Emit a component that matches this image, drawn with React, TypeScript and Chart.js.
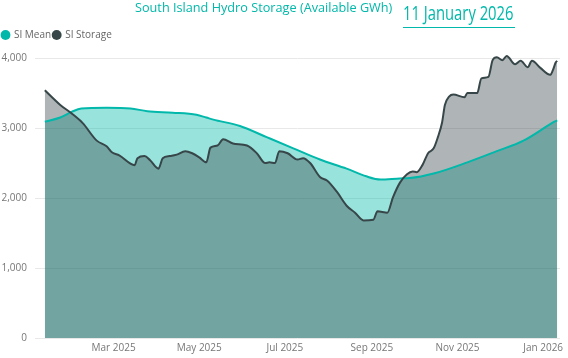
import React, { useEffect, useRef } from 'react';
import { Chart, registerables } from 'chart.js';

Chart.register(...registerables);

const START_DATE = '2025-01-11';

const storageDates = [
  '2025-01-11', '2025-01-22', '2025-01-30', '2025-02-07', '2025-02-17', '2025-02-24', '2025-02-28',
  '2025-03-05', '2025-03-16', '2025-03-18', '2025-03-23', '2025-03-27', '2025-04-02', '2025-04-05',
  '2025-04-10', '2025-04-15', '2025-04-21', '2025-04-26', '2025-05-01', '2025-05-06', '2025-05-09',
  '2025-05-14', '2025-05-18', '2025-05-25', '2025-06-04', '2025-06-11', '2025-06-17', '2025-06-20',
  '2025-06-24', '2025-06-27', '2025-07-03', '2025-07-10', '2025-07-14', '2025-07-19', '2025-07-26',
  '2025-07-31', '2025-08-07', '2025-08-14', '2025-08-20', '2025-08-26', '2025-09-02', '2025-09-05',
  '2025-09-12', '2025-09-16', '2025-09-21', '2025-09-26', '2025-09-30', '2025-10-03', '2025-10-07',
  '2025-10-11', '2025-10-15', '2025-10-18', '2025-10-21', '2025-10-23', '2025-10-26', '2025-10-29',
  '2025-11-06', '2025-11-08', '2025-11-15', '2025-11-18', '2025-11-23', '2025-11-26', '2025-11-29',
  '2025-12-03', '2025-12-06', '2025-12-12', '2025-12-16', '2025-12-21', '2025-12-24', '2025-12-30',
  '2026-01-06', '2026-01-08', '2026-01-10', '2026-01-11',
];
const storageValues = [
  3540, 3330, 3210, 3070, 2820, 2740, 2650,
  2610, 2470, 2570, 2600, 2540, 2420, 2570,
  2600, 2620, 2670, 2640, 2580, 2510, 2720,
  2750, 2840, 2780, 2750, 2640, 2500, 2510,
  2500, 2670, 2640, 2550, 2570, 2500, 2300,
  2250, 2090, 1890, 1790, 1680, 1690, 1810,
  1790, 2010, 2220, 2340, 2380, 2370, 2470,
  2640, 2710, 2870, 3080, 3330, 3450, 3480,
  3440, 3500, 3500, 3710, 3730, 3970, 4010,
  3970, 4030, 3910, 3960, 3870, 3960, 3860,
  3760, 3830, 3940, 3960,
];

const meanDates = [
  '2025-01-11', '2025-01-22', '2025-01-30', '2025-02-06', '2025-02-24', '2025-03-13', '2025-03-25',
  '2025-04-12', '2025-04-29', '2025-05-06', '2025-05-11', '2025-05-30', '2025-06-18', '2025-07-07',
  '2025-07-26', '2025-08-14', '2025-08-28', '2025-09-07', '2025-09-21', '2025-09-28', '2025-10-15',
  '2025-11-08', '2025-11-29', '2025-12-18', '2026-01-09', '2026-01-11',
];
const meanValues = [
  3090, 3150, 3230, 3280, 3290, 3280, 3240,
  3220, 3190, 3150, 3120, 3030, 2870, 2710,
  2550, 2420, 2310, 2265, 2280, 2285, 2350,
  2510, 2670, 2820, 3090, 3110,
];

const tickDates = ['2025-03-01', '2025-05-01', '2025-07-01', '2025-09-01', '2025-11-01', '2026-01-01'];
const tickLabels = ['Mar 2025', 'May 2025', 'Jul 2025', 'Sep 2025', 'Nov 2025', 'Jan 2026'];
const yTickValues = [0, 1000, 2000, 3000, 4000];

const TITLE = 'South Island Hydro Storage (Available GWh)';
const DATE_LABEL = '11 January 2026';

const MEAN_COLOR = '#01B8AA';
const MEAN_FILL = 'rgba(1,184,170,0.4)';
const STORAGE_COLOR = '#374649';
const STORAGE_FILL = 'rgba(55,70,73,0.4)';
const FONT = "'Open Sans', 'Noto Sans', sans-serif";

const DAY_MS = 86400000;
const dayIndex = (d: string) =>
  Math.round((Date.parse(d + 'T00:00:00Z') - Date.parse(START_DATE + 'T00:00:00Z')) / DAY_MS);

export default function App() {
  const ref = useRef<HTMLCanvasElement>(null);

  useEffect(() => {
    const canvas = ref.current;
    if (!canvas) return;
    const tickDays = tickDates.map(dayIndex);
    const chart = new Chart(canvas, {
      type: 'line',
      data: {
        datasets: [
          {
            label: 'SI Mean',
            data: meanDates.map((d, i) => ({ x: dayIndex(d), y: meanValues[i] })),
            borderColor: MEAN_COLOR,
            backgroundColor: MEAN_FILL,
            fill: 'origin',
            borderWidth: 2,
            pointRadius: 0,
            cubicInterpolationMode: 'monotone',
            order: 1,
          },
          {
            label: 'SI Storage',
            data: storageDates.map((d, i) => ({ x: dayIndex(d), y: storageValues[i] })),
            borderColor: STORAGE_COLOR,
            backgroundColor: STORAGE_FILL,
            fill: 'origin',
            borderWidth: 2,
            pointRadius: 0,
            cubicInterpolationMode: 'monotone',
            order: 0,
          },
        ],
      },
      options: {
        animation: false,
        responsive: false,
        maintainAspectRatio: false,
        layout: { padding: { top: 28, right: 8, bottom: 0, left: 0 } },
        plugins: {
          filler: { drawTime: 'beforeDatasetsDraw' },
          tooltip: { enabled: false },
          legend: {
            display: true,
            position: 'top',
            align: 'start',
            labels: {
              usePointStyle: true,
              boxWidth: 7,
              boxHeight: 7,
              padding: 2,
              color: '#666',
              font: { family: FONT, size: 10 },
              generateLabels: (c: any) =>
                c.data.datasets.map((ds: any, i: number) => ({
                  text: ds.label,
                  fillStyle: ds.borderColor,
                  strokeStyle: ds.borderColor,
                  lineWidth: 0,
                  pointStyle: 'circle',
                  datasetIndex: i,
                  hidden: false,
                  fontColor: '#666',
                })),
            },
          },
        },
        scales: {
          x: {
            type: 'linear',
            min: -7,
            max: 367,
            afterBuildTicks: (s: any) => {
              s.ticks = tickDays.map((v) => ({ value: v }));
            },
            ticks: {
              autoSkip: false,
              maxRotation: 0,
              padding: 4,
              color: '#777',
              font: { family: FONT, size: 10 },
              callback: (v: any) => {
                const k = tickDays.indexOf(Number(v));
                return k >= 0 ? tickLabels[k] : '';
              },
            },
            grid: { display: false, drawTicks: false },
            border: { display: false },
          },
          y: {
            min: 0,
            max: 4115,
            afterBuildTicks: (s: any) => {
              s.ticks = yTickValues.map((v) => ({ value: v }));
            },
            afterFit: (s: any) => {
              s.width = 35;
            },
            ticks: {
              padding: 8,
              color: '#777',
              font: { family: FONT, size: 10 },
              callback: (v: any) => Number(v).toLocaleString('en-US'),
            },
            grid: { color: '#e8e8e8', drawTicks: false },
            border: { display: false },
          },
        },
      },
    } as any);
    return () => chart.destroy();
  }, []);

  return (
    <div style={{ position: 'absolute', left: 0, top: 0, width: 568, height: 358, background: '#fff', overflow: 'hidden' }}>
      <canvas ref={ref} width={568} height={358} style={{ position: 'absolute', left: 0, top: 0, display: 'block' }} />
      <div
        style={{
          position: 'absolute',
          left: 135,
          top: 1,
          fontFamily: FONT,
          fontSize: 12.7,
          lineHeight: '12.7px',
          color: MEAN_COLOR,
          whiteSpace: 'nowrap',
        }}
      >
        {TITLE}
      </div>
      <div
        style={{
          position: 'absolute',
          left: 403,
          top: 3,
          width: 112,
          height: 24,
          borderBottom: `1px solid ${MEAN_COLOR}`,
        }}
      >
        <span
          style={{
            display: 'inline-block',
            fontFamily: FONT,
            fontSize: 20,
            lineHeight: '20px',
            fontWeight: 400,
            color: MEAN_COLOR,
            whiteSpace: 'nowrap',
            transformOrigin: '0 0',
            transform: 'scaleX(0.74)',
          }}
        >
          {DATE_LABEL}
        </span>
      </div>
    </div>
  );
}
